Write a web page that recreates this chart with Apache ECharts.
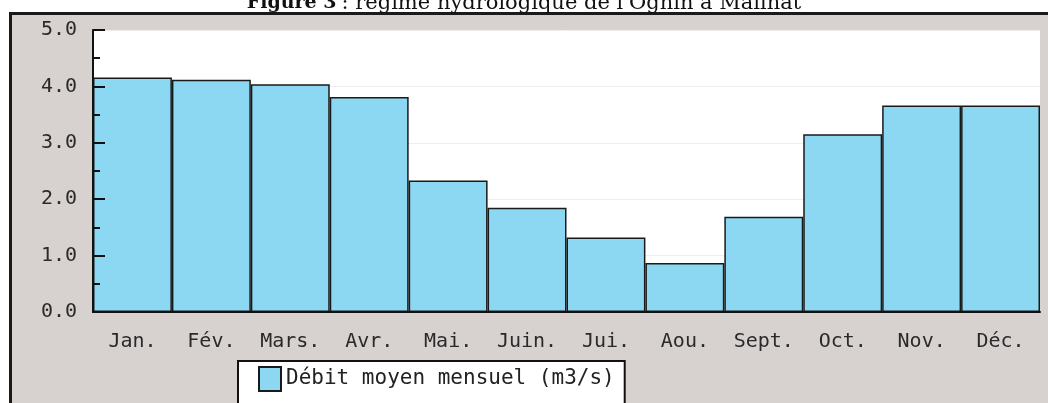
<!DOCTYPE html>
<html>
<head>
<meta charset="utf-8">
<script src="https://cdn.jsdelivr.net/npm/echarts@6/dist/echarts.min.js"></script>
<style>
html,body{margin:0;padding:0;background:#fff;}
#c{width:1048px;height:403px;}
</style>
</head>
<body>
<div id="c"></div>
<script>
const months = ['Jan.', 'Fév.', 'Mars.', 'Avr.', 'Mai.', 'Juin.', 'Jui.', 'Aou.', 'Sept.', 'Oct.', 'Nov.', 'Déc.'];
const debit = [4.16, 4.12, 4.04, 3.81, 2.33, 1.85, 1.32, 0.87, 1.69, 3.15, 3.66, 3.66];
const seriesName = 'Débit moyen mensuel (m3/s)';
const yMin = 0, yMax = 5, yInterval = 1;

const chart = echarts.init(document.getElementById('c'), null, {renderer: 'canvas'});
const mono = 'DejaVu Sans Mono';
chart.setOption({
  backgroundColor: '#fff',
  animation: false,
  title: {
    left: 'center',
    top: -12,
    text: '{b|Figure 3} {r|: régime hydrologique de l\'Ognin à Mailhat}',
    textStyle: {
      fontWeight: 'normal',
      rich: {
        b: {fontFamily: 'DejaVu Serif', fontWeight: 'bold', fontSize: 19, color: '#111'},
        r: {fontFamily: 'DejaVu Serif', fontWeight: 'normal', fontSize: 21, color: '#111'}
      }
    }
  },
  graphic: [
    {type: 'rect', z: -100, silent: true, shape: {x: 12, y: 15, width: 1036, height: 388}, style: {fill: '#d7d2d0'}},
    {type: 'rect', z: -99, silent: true, shape: {x: 9, y: 12, width: 1039, height: 3}, style: {fill: '#1a1a1a'}},
    {type: 'rect', z: -99, silent: true, shape: {x: 9, y: 12, width: 3, height: 391}, style: {fill: '#1a1a1a'}}
  ],
  grid: {
    left: 93, right: 8, top: 30, bottom: 91,
    show: true, backgroundColor: '#fff', borderWidth: 0,
    containLabel: false
  },
  legend: {
    left: 238, top: 361,
    padding: [5, 10, 30, 20],
    backgroundColor: '#fff',
    borderColor: '#111', borderWidth: 2,
    icon: 'rect',
    itemWidth: 22, itemHeight: 24,
    textStyle: {fontFamily: mono, fontSize: 21, color: '#222'},
    data: [seriesName]
  },
  xAxis: {
    type: 'category',
    data: months,
    z: 5,
    axisLine: {lineStyle: {color: '#111', width: 2}},
    axisTick: {show: false},
    axisLabel: {fontFamily: mono, fontSize: 20, color: '#2a2a2a', margin: 20},
    splitLine: {show: false}
  },
  yAxis: [{
    type: 'value',
    min: yMin, max: yMax, interval: yInterval,
    z: 5,
    axisLine: {show: true, lineStyle: {color: '#111', width: 2}},
    axisTick: {show: true, inside: true, length: 12, lineStyle: {color: '#111', width: 2}},
    minorTick: {show: true, splitNumber: 2, length: 7, lineStyle: {color: '#111', width: 2}},
    axisLabel: {fontFamily: mono, fontSize: 20, color: '#2a2a2a', margin: 16, formatter: v => v.toFixed(1)},
    splitLine: {show: false}
  }, {
    type: 'value',
    position: 'left',
    min: yMin, max: yMax, interval: yInterval,
    z: 0,
    axisLine: {show: false},
    axisTick: {show: false},
    axisLabel: {show: false},
    splitLine: {show: true, lineStyle: {color: '#eeeeee', width: 1}}
  }],
  series: [{
    name: seriesName,
    type: 'bar',
    yAxisIndex: 0,
    data: debit,
    barCategoryGap: '0%',
    itemStyle: {color: '#8cd8f2', borderColor: '#1a1a1a', borderWidth: 1.5}
  }]
});
</script>
</body>
</html>
